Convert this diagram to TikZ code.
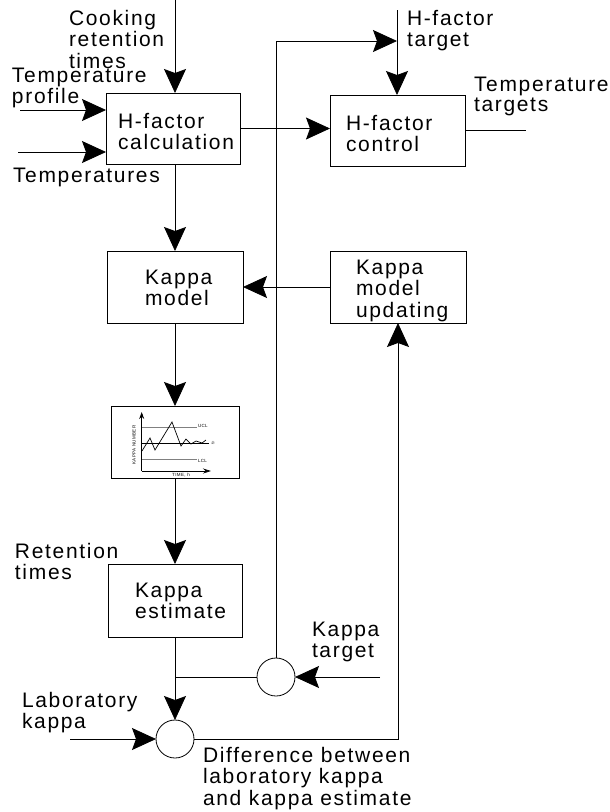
\documentclass[tikz,border=0pt]{standalone}
\usepackage{fontspec}
\setmainfont{Liberation Sans}[LetterSpace=8]
\usetikzlibrary{arrows.meta}
\begin{document}
\begin{tikzpicture}[x=1pt,y=-1pt,
  every node/.style={inner sep=0pt,outer sep=0pt},
  box/.style={draw,line width=0.9pt,rectangle},
  sumc/.style={draw,line width=0.8pt,circle,minimum size=38pt},
  txt/.style={anchor=north west,align=left,font=\fontsize{21}{21.5}\selectfont},
  ln/.style={line width=0.8pt},
  arr/.style={line width=0.8pt,-{Stealth[length=24pt,width=22pt,inset=4pt]}},
  tiny/.style={font=\fontsize{4.5}{5}\selectfont}]
\useasboundingbox (0,0) rectangle (610,812);
% boxes
\node[box,minimum width=134pt,minimum height=71pt] (hcalc) at (173,128.5) {};
\node[box,minimum width=135pt,minimum height=71pt] (hctrl) at (397.5,130.5) {};
\node[box,minimum width=136pt,minimum height=72pt] (kmodel) at (175,287) {};
\node[box,minimum width=136pt,minimum height=72pt] (kupd) at (398,287) {};
\node[box,minimum width=128pt,minimum height=72pt] (chart) at (175,442) {};
\node[box,minimum width=134pt,minimum height=73pt] (kest) at (175,600.5) {};
\node[sumc] (sumT) at (276,677) {};
\node[sumc] (diff) at (175,739) {};
% texts
\node[txt] (tcook) at (69,10) {Cooking\\retention\\times};
\node[txt] (tprof) at (12,68) {Temperature\\profile};
\node[txt] (ttemps) at (13,168) {Temperatures};
\node[txt] (thcalc) at (118,113) {H-factor\\calculation};
\node[txt] (thtgt) at (407,10) {H-factor\\target};
\node[txt,font=\fontsize{21}{20}\selectfont] (tttgt) at (474,77) {Temperature\\targets};
\node[txt] (thctrl) at (346,115) {H-factor\\control};
\node[txt] (tkmodel) at (145,270) {Kappa\\model};
\node[txt] (tkupd) at (356,260) {Kappa\\model\\updating};
\node[txt] (tkest) at (135,583) {Kappa\\estimate};
\node[txt] (tret) at (15,543) {Retention\\times};
\node[txt] (tktgt) at (312,622) {Kappa\\target};
\node[txt] (tlab) at (22,692) {Laboratory\\kappa};
\node[txt] (tdiff) at (203,747) {Difference between\\laboratory kappa\\and kappa estimate};
% free ends
\coordinate (cookin) at (175,0);
\coordinate (tpin) at (20,110);
\coordinate (tempin) at (18,152);
\coordinate (htin) at (397,10);
\coordinate (ttout) at (526,130);
\coordinate (fbtop) at (397,41);
\coordinate (ktin) at (380,677);
\coordinate (lkin) at (70,739);
\coordinate (junc) at (175,677);
% connectors
\draw[arr] (cookin) -- (cookin |- hcalc.north);
\draw[arr] (tpin) -- (tpin -| hcalc.west);
\draw[arr] (tempin) -- (tempin -| hcalc.west);
\draw[arr] (hcalc.east) -- (hcalc.east -| hctrl.west);
\draw[arr] (htin) -- (htin |- hctrl.north);
\draw[ln] (hctrl.east) -- (hctrl.east -| ttout);
\draw[arr] (hcalc.south -| kmodel.north) -- (kmodel.north);
\draw[arr] (kupd.west) -- (kmodel.east);
\draw[arr] (kmodel.south) -- (chart.north);
\draw[arr] (chart.south) -- (kest.north);
\draw[arr] (kest.south) -- (diff.north);
\draw[ln] (junc) -- (sumT.west);
\draw[arr] (ktin) -- (sumT.east);
\draw[arr] (sumT.north) |- (fbtop);
\draw[arr] (lkin) -- (diff.west);
\draw[arr] (diff.east) -| (kupd.south);
% chart contents
\draw[line width=0.5pt,gray] (141.7,427) -- (197,427);
\draw[line width=0.5pt,gray] (141.7,459) -- (197,459);
\draw[line width=0.8pt] (141.7,443) -- (209,443);
\draw[line width=0.7pt] (142,451) -- (150,438) -- (155,450) -- (172,422) -- (181,446) -- (186,439) -- (191,444) -- (196,441) -- (202,443) -- (206,440);
\draw[line width=0.8pt,-{Stealth[length=7pt,width=5pt]}] (141.7,471) -- (141.7,412);
\draw[line width=0.8pt,-{Stealth[length=8pt,width=5pt]}] (141.7,471) -- (211,471);
\node[tiny,anchor=west] (lucl) at (198,426) {UCL};
\node[tiny,anchor=west] (llcl) at (198,461) {LCL};
\node[tiny,anchor=west] (lxbar) at (211,443) {$\bar{x}$};
\node[tiny,rotate=90] (lkn) at (134,445) {KAPPA NUMBER};
\node[tiny] (ltime) at (181,475.5) {TIME, h};
\end{tikzpicture}
\end{document}
